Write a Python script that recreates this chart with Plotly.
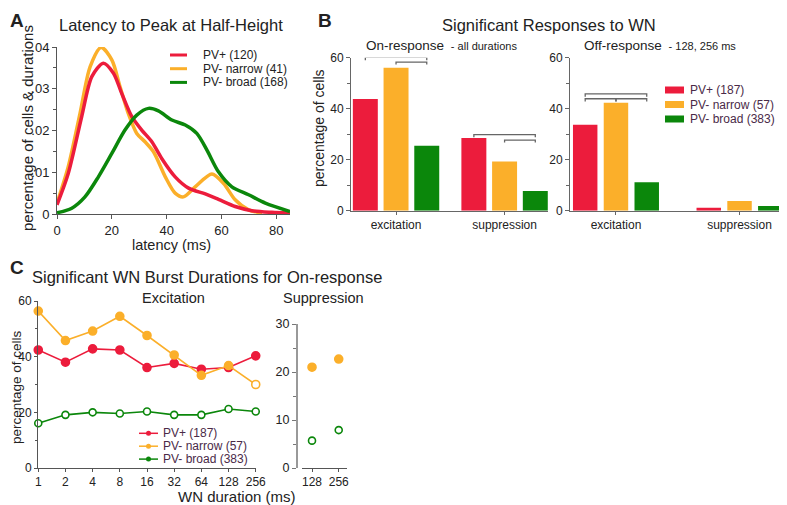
import plotly.graph_objects as go

# the page body adds an 8px margin, so the figure is drawn 8px smaller and
# every layout position below is given in window pixels minus that margin
PAGE_PAD = 8
W, H = 787 - PAGE_PAD, 505 - PAGE_PAD
FONT = "Liberation Sans, Arial, Helvetica, sans-serif"
RED, ORANGE, GREEN = "#EC1C3C", "#FBAF2A", "#0B870B"
COLORS = [RED, ORANGE, GREEN]
INK = "#222222"
LEG_INK = "#4a2a48"

groups = ["PV+", "PV- narrow", "PV- broad"]
n_latency = [120, 41, 168]
n_wn = [187, 57, 383]

# --- A: latency to peak at half-height (density) ---
lat_x_pv = [0, 4.1, 9.0, 12.7, 16.9, 20.6, 23.6, 27.3, 30.9, 34.6, 38.2, 43.1, 48, 54.1, 58.9, 65, 71.1, 78.4, 85]
lat_y_pv = [0.0022, 0.0097, 0.0233, 0.0329, 0.0361, 0.0337, 0.0289, 0.0233, 0.0201, 0.0173, 0.0133,
            0.0089, 0.0062, 0.0048, 0.0035, 0.0018, 0.0008, 0.0004, 0.0002]
lat_x_nar = [0, 4.1, 8.4, 12.1, 16.1, 20, 23, 26, 29.1, 32.1, 35.2, 39.5, 43.1, 46.1, 50.4, 56.5, 60.8, 65, 69.9, 74.8]
lat_y_nar = [0.0026, 0.0113, 0.0241, 0.0353, 0.0399, 0.0369, 0.0305, 0.0241, 0.0193, 0.0173, 0.0149,
             0.0089, 0.0050, 0.0041, 0.0065, 0.0096, 0.0073, 0.0034, 0.0010, 0.0002]
lat_x_brd = [0, 5.4, 10.2, 15.1, 20, 24.8, 29.1, 33.4, 37, 41.9, 46.8, 51, 54.7, 58.9, 63.8, 69.9, 76, 85]
lat_y_brd = [0.0003, 0.0014, 0.0041, 0.0089, 0.0145, 0.0201, 0.0237, 0.0253, 0.0247, 0.0225, 0.0213,
             0.0193, 0.0153, 0.0101, 0.0065, 0.0046, 0.0026, 0.0006]
lat_ticks = [0, 20, 40, 60, 80]
dens_ticks = [0, 0.01, 0.02, 0.03, 0.04]
dens_labels = ["0", ".01", ".02", ".03", ".04"]

# --- B: significant responses to WN (% of cells) ---
resp_types = ["excitation", "suppression"]
on_pv = [43.8, 28.5]
on_nar = [56.1, 19.3]
on_brd = [25.5, 7.7]
off_pv = [33.7, 1.2]
off_nar = [42.3, 3.8]
off_brd = [11.2, 1.85]

# --- C: significant WN burst durations for on-response ---
durations = ["1", "2", "4", "8", "16", "32", "64", "128", "256"]
exc_pv = [42.4, 38.0, 42.8, 42.4, 36.1, 37.6, 35.5, 36.1, 40.3]
exc_nar = [56.4, 45.8, 49.2, 54.5, 47.6, 40.6, 33.3, 36.8, 30.0]
exc_brd = [16.1, 19.1, 20.0, 19.6, 20.3, 19.1, 19.1, 21.2, 20.3]
sup_durations = ["128", "256"]
sup_pv = [31.0, 31.5]
sup_nar = [21.0, 22.7]
sup_brd = [5.7, 7.9]


def fx(p):
    return (p - PAGE_PAD) / W


def fy(p):
    return 1 - (p - PAGE_PAD) / H


fig = go.Figure()

# A curves
for xs, ys, c in [(lat_x_nar, lat_y_nar, ORANGE), (lat_x_pv, lat_y_pv, RED), (lat_x_brd, lat_y_brd, GREEN)]:
    fig.add_trace(go.Scatter(x=xs, y=ys, mode="lines", line=dict(color=c, width=3.5, shape="spline", smoothing=0.8),
                             xaxis="x", yaxis="y", hoverinfo="skip"))

# B bars: overlay with explicit offsets so each panel keeps its own spacing
bar_sets = [("x2", "y2", [on_pv, on_nar, on_brd], 0.283, 0.230),
            ("x3", "y3", [off_pv, off_nar, off_brd], 0.249, 0.198)]
for xa, ya, series, step, width in bar_sets:
    for i, (vals, c) in enumerate(zip(series, COLORS)):
        fig.add_trace(go.Bar(x=resp_types, y=vals, marker=dict(color=c, line=dict(width=0)),
                             width=width, offset=(i - 1) * step - width / 2,
                             xaxis=xa, yaxis=ya, hoverinfo="skip"))

# C excitation lines
nar_fill = [ORANGE] * (len(durations) - 1) + ["white"]
c_series = [(exc_brd, GREEN, "white"), (exc_pv, RED, RED), (exc_nar, ORANGE, nar_fill)]
for vals, c, fill in c_series:
    fig.add_trace(go.Scatter(x=durations, y=vals, mode="lines+markers",
                             line=dict(color=c, width=1.6),
                             marker=dict(size=8 if fill != "white" else 7, color=fill,
                                         line=dict(color=c, width=1.6)),
                             cliponaxis=False, xaxis="x4", yaxis="y4", hoverinfo="skip"))

# C suppression points
for vals, c, fill in [(sup_pv, RED, RED), (sup_nar, ORANGE, ORANGE), (sup_brd, GREEN, "white")]:
    fig.add_trace(go.Scatter(x=sup_durations, y=vals, mode="markers",
                             marker=dict(size=8 if fill != "white" else 7, color=fill,
                                         line=dict(color=c, width=1.6)),
                             cliponaxis=False, xaxis="x5", yaxis="y5", hoverinfo="skip"))

axis_base = dict(showgrid=False, zeroline=False, showline=True, ticks="outside", ticklen=4,
                 tickwidth=1, tickfont=dict(size=12, color=INK, family=FONT), fixedrange=True)

fig.update_layout(
    width=W, height=H, margin=dict(l=0, r=0, t=0, b=0, autoexpand=False),
    paper_bgcolor="white", plot_bgcolor="white", showlegend=False,
    font=dict(family=FONT, color=INK), barmode="overlay",
    xaxis=dict(axis_base, domain=[fx(57), fx(290)], range=[0, 85], tickvals=lat_ticks,
               linecolor="#555", tickcolor="#555", anchor="y", tickfont=dict(size=13, color=INK)),
    yaxis=dict(axis_base, domain=[fy(214), fy(47)], range=[0, 0.04], tickvals=dens_ticks,
               ticktext=dens_labels, linecolor="#555", tickcolor="#555", anchor="x",
               minor=dict(ticks="outside", ticklen=3, tickcolor="#555", dtick=0.005, tick0=0),
               tickfont=dict(size=13, color=INK)),
    xaxis2=dict(axis_base, domain=[fx(351), fx(548)], type="category", categoryarray=resp_types,
                range=[-0.415, 1.40], linecolor="#666", tickcolor="#666", ticklen=3, anchor="y2"),
    yaxis2=dict(axis_base, domain=[fy(210.7), fy(57.7)], range=[0, 60], dtick=20,
                linecolor="#666", tickcolor="#666", anchor="x2",
                minor=dict(ticks="outside", ticklen=3, tickcolor="#666", dtick=10, tick0=0)),
    xaxis3=dict(axis_base, domain=[fx(570), fx(785)], type="category", categoryarray=resp_types,
                range=[-0.372, 1.368], linecolor="#666", tickcolor="#666", ticklen=3, anchor="y3"),
    yaxis3=dict(axis_base, domain=[fy(210.7), fy(57.7)], range=[0, 60], dtick=20,
                linecolor="#666", tickcolor="#666", anchor="x3",
                minor=dict(ticks="outside", ticklen=3, tickcolor="#666", dtick=10, tick0=0)),
    xaxis4=dict(axis_base, domain=[fx(38), fx(256)], type="category", categoryarray=durations,
                range=[-0.01, 8.01], linecolor="#555", tickcolor="#555", anchor="y4", ticklen=3,
                tickfont=dict(size=12, color=INK)),
    yaxis4=dict(axis_base, domain=[fy(468), fy(301)], range=[0, 60], dtick=20,
                linecolor="#555", tickcolor="#555", anchor="x4", ticklen=3,
                minor=dict(ticks="outside", ticklen=2, tickcolor="#555", dtick=10, tick0=0),
                tickfont=dict(size=12, color=INK)),
    xaxis5=dict(axis_base, domain=[fx(302), fx(347)], type="category", categoryarray=sup_durations,
                range=[-0.375, 1.31], linecolor="#555", tickcolor="#555", anchor="y5", ticklen=3,
                tickfont=dict(size=12, color=INK)),
    yaxis5=dict(axis_base, domain=[fy(468), fy(324)], range=[0, 30], dtick=10,
                linecolor="#999", linewidth=2, tickcolor="#777", anchor="free", position=fx(297),
                minor=dict(ticks="outside", ticklen=3, tickcolor="#777", dtick=5, tick0=0),
                tickfont=dict(size=12.5, color=INK)),
)

# significance brackets (axis, left, right, top, drop)
brackets = [("2", -0.283, 0.283, 60.1, 1.1), ("2", 0.0, 0.283, 58.3, 1.0),
            ("2", 0.717, 1.283, 29.8, 1.0), ("2", 1.0, 1.283, 27.7, 1.0),
            ("3", -0.249, 0.249, 45.8, 1.1), ("3", -0.249, 0.0, 43.9, 1.1), ("3", 0.0, 0.249, 43.9, 1.1)]
for ax, x0, x1, top, drop in brackets:
    fig.add_shape(type="path", xref="x" + ax, yref="y" + ax,
                  path=f"M {x0},{top - drop} L {x0},{top} L {x1},{top} L {x1},{top - drop}",
                  line=dict(color="#666", width=1.3))

ann = []


def text(x, y, s, size, **kw):
    d = dict(x=fx(x), y=fy(y), xref="paper", yref="paper", text=s, showarrow=False,
             xanchor="center", yanchor="middle",
             font=dict(size=size, color=kw.pop("color", INK), family=FONT))
    d.update(kw)
    ann.append(d)


# panel letters and titles (letters nudged inside the page margin so they stay whole)
text(17, 21, "<b>A</b>", 19)
text(325, 21, "<b>B</b>", 19)
text(17, 267, "<b>C</b>", 19)
text(171, 25, "Latency to Peak at Half-Height", 16.5)
text(549, 25, "Significant Responses to WN", 16.5)
text(30, 277, "Significant WN Burst Durations for On-response", 16.5, xanchor="left")
text(364, 45, "On-response <span style='font-size:11px'>&nbsp;- all durations</span>", 13.5, xanchor="left")
text(582, 45, "Off-response <span style='font-size:11px'>&nbsp;- 128, 256 ms</span>", 13.5, xanchor="left")
text(173, 298, "Excitation", 14.5)
text(323, 298, "Suppression", 14.5)

# axis titles
text(27, 128, "percentage of cells &amp; durations", 15, textangle=-90)
text(171, 245, "latency (ms)", 14.5)
text(319, 128, "percentage of cells", 14, textangle=-90)
text(16, 387, "percentage of cells", 13.5, textangle=-90)
text(298, 496.5, "WN duration (ms)", 15, xanchor="right")

# legends drawn by hand to match the compact spacing
for i, (g, n, c) in enumerate(zip(groups, n_latency, COLORS)):
    row = 55 + i * 13.7
    fig.add_shape(type="line", xref="paper", yref="paper", x0=fx(170), x1=fx(187), y0=fy(row), y1=fy(row),
                  line=dict(color=c, width=3))
    text(201, row, f"{g} ({n})", 12, xanchor="left")

for i, (g, n, c) in enumerate(zip(groups, n_wn, COLORS)):
    row = 90 + i * 14.5
    fig.add_shape(type="rect", xref="paper", yref="paper", x0=fx(665), x1=fx(684),
                  y0=fy(row + 3.5), y1=fy(row - 3.5), fillcolor=c, line=dict(width=0))
    text(688, row, f"{g} ({n})", 12, xanchor="left", color=LEG_INK)

for i, (g, n, c) in enumerate(zip(groups, n_wn, COLORS)):
    row = 433.3 + i * 12.9
    fig.add_shape(type="line", xref="paper", yref="paper", x0=fx(139), x1=fx(158), y0=fy(row), y1=fy(row),
                  line=dict(color=c, width=1.5))
    fig.add_shape(type="circle", xref="paper", yref="paper", x0=fx(146), x1=fx(151),
                  y0=fy(row + 2.5), y1=fy(row - 2.5), fillcolor=c, line=dict(color=c, width=0))
    text(161, row, f"{g} ({n})", 12, xanchor="left", color=LEG_INK)

fig.update_layout(annotations=ann)
fig.write_html("out.html")
